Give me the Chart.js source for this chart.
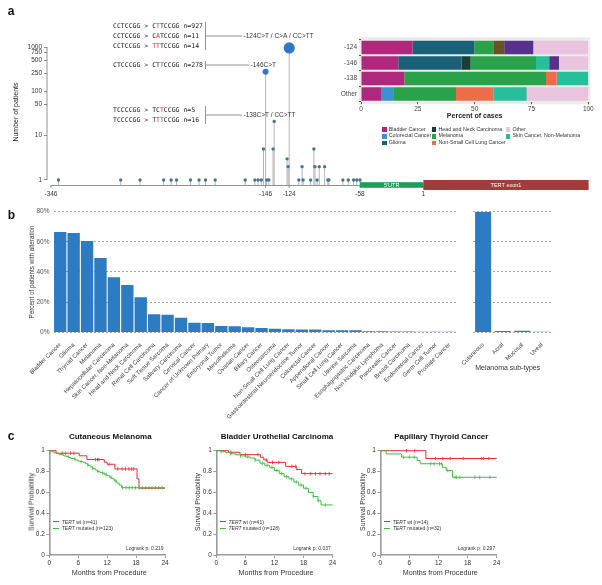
<!DOCTYPE html>
<html>
<head>
<meta charset="utf-8">
<title>TERT promoter mutations</title>
<script src="https://cdn.jsdelivr.net/npm/chart.js@4.4.1/dist/chart.umd.min.js"></script>
<style>
  body { margin: 0; width: 602px; height: 585px; position: relative; overflow: hidden; background: #fff;
         font-family: "Liberation Sans", Arial, sans-serif; color: #222; }
  canvas { position: absolute; }
  .t { position: absolute; white-space: nowrap; line-height: 1; }
  .sw { position: absolute; }
</style>
</head>
<body>
<canvas id="lolliChart" width="602" height="200" style="left:0;top:0"></canvas>
<canvas id="shareChart" width="272" height="90" style="left:330px;top:30px"></canvas>
<canvas id="altChart" width="470" height="220" style="left:0;top:200px"></canvas>
<canvas id="subChart" width="115" height="220" style="left:455px;top:200px"></canvas>
<canvas id="km0" width="180" height="155" style="left:0;top:430px"></canvas>
<canvas id="km1" width="180" height="155" style="left:166.7px;top:430px"></canvas>
<canvas id="km2" width="180" height="155" style="left:331px;top:430px"></canvas>
<script>
// ---- panel a: promoter positions ----
const mutPos = [-339, -281, -263, -241, -234, -229, -216, -208, -202, -193, -165, -156, -153, -150,
                -148, -146, -145, -143, -139, -138, -126, -125, -124, -115, -112, -111, -104, -101,
                -100, -98, -96, -91, -88, -87, -74, -69, -64, -61, -58];
const mutCount = [1, 1, 1, 1, 1, 1, 1, 1, 1, 1, 1, 1, 1, 1,
                  5, 278, 1, 1, 5, 21, 3, 2, 952, 1, 2, 1, 1, 5,
                  2, 1, 2, 2, 1, 1, 1, 1, 1, 1, 1];
const posTicks = [-346, -146, -124, -58, 1];
const countTicks = [1, 10, 50, 100, 250, 500, 750, 1000];
const regionNames = ["5'UTR", 'TERT exon1'];
const regionStart = [-58, 1];
const regionEnd = [1, 155];

const seqRef = ['CCTCCGG', 'CCTCCGG', 'CCTCCGG', 'CTCCCGG', 'TCCCCGG', 'TCCCCGG'];
const seqAlt = ['CTTCCGG', 'CATCCGG', 'TTTCCGG', 'CTTCCGG', 'TCTCCGG', 'TTTCCGG'];
const seqN = [927, 11, 14, 278, 5, 16];
const seqChanged = [[1], [1], [0, 1], [2], [2], [1, 2]];
const hotspotNames = ['-124C>T / C>A / CC>TT', '-146C>T', '-138C>T / CC>TT'];

// ---- panel a: cancer types per hotspot (percent of cases) ----
const hotspots = ['-124', '-146', '-138', 'Other'];
const cancerTypes = ['Bladder Cancer', 'Colorectal Cancer', 'Glioma', 'Head and Neck Carcinoma', 'Melanoma',
                     'Hepatocellular Carcinoma', 'Non-Small Cell Lung Cancer', 'Skin Cancer, Non-Melanoma',
                     'Thyroid Cancer', 'Other'];
const shareBladder = [22.7, 16.4, 19.1, 8.8];
const shareColorectal = [0, 0, 0, 5.7];
const shareGlioma = [27.2, 27.9, 0, 0];
const shareHeadNeck = [0, 3.9, 0, 0];
const shareMelanoma = [8.3, 28.8, 62.3, 27.3];
const shareHepato = [4.8, 0, 0, 0];
const shareNsclc = [0, 0, 4.7, 16.4];
const shareSkin = [0, 5.8, 13.9, 14.7];
const shareThyroid = [12.8, 4.3, 0, 0];
const shareOther = [24.2, 12.9, 0, 27.1];
const legendTypes = ['Bladder Cancer', 'Colorectal Cancer', 'Glioma', 'Head and Neck Carcinoma', 'Melanoma',
                     'Non-Small Cell Lung Cancer', 'Other', 'Skin Cancer, Non-Melanoma'];

// ---- panel b ----
const cancerCats = ['Bladder Cancer', 'Glioma', 'Thyroid Cancer', 'Melanoma', 'Hepatocellular Carcinoma',
  'Skin Cancer, Non-Melanoma', 'Head and Neck Carcinoma', 'Renal Cell Carcinoma', 'Soft Tissue Sarcoma',
  'Salivary Carcinoma', 'Cervical Cancer', 'Cancer of Unknown Primary', 'Embryonal Tumor', 'Mesothelioma',
  'Ovarian Cancer', 'Biliary Cancer', 'Osteosarcoma', 'Non-Small Cell Lung Cancer',
  'Gastrointestinal Neuroendocrine Tumor', 'Colorectal Cancer', 'Appendiceal Cancer', 'Small Cell Lung Cancer',
  'Uterine Sarcoma', 'Esophagogastric Carcinoma', 'Non-Hodgkin Lymphoma', 'Pancreatic Cancer',
  'Breast Carcinoma', 'Endometrial Cancer', 'Germ Cell Tumor', 'Prostate Cancer'];
const altPct = [66.5, 65.8, 60.5, 49.3, 36.5, 31.4, 23.2, 11.9, 11.7, 9.7, 6.4, 6.2, 4.2, 4.0, 3.3,
                2.9, 2.4, 2.0, 1.8, 1.8, 1.3, 1.3, 1.3, 0.7, 0.7, 0.6, 0.5, 0.4, 0.4, 0.3];
const subTypes = ['Cutaneous', 'Acral', 'Mucosal', 'Uveal'];
const subPct = [80, 0.9, 1.0, 0.3];

// ---- panel c: Kaplan-Meier (months, survival) ----
const kmTitles = ['Cutaneous Melanoma', 'Bladder Urothelial Carcinoma', 'Papillary Thyroid Cancer'];
const kmWtN = [41, 41, 14];
const kmMutN = [123, 128, 32];
const kmP = ['0.219', '0.037', '0.297'];
const monthTicks = [0, 6, 12, 18, 24];

const melWtT = [0, 1.4, 6.2, 7.8, 11.4, 12, 13.6, 18.2, 18.6, 24];
const melWtS = [1, 0.976, 0.951, 0.915, 0.89, 0.87, 0.825, 0.73, 0.64, 0.64];
const melWtCens = [2.7, 3.4, 4.4, 5.1, 9.6, 10, 10.3, 12.4, 14.2, 15.1, 15.8, 16.5, 17.1, 17.5];
const melMutT = [0, 0.5, 1, 1.5, 2, 2.5, 3, 3.5, 4, 4.5, 5, 5.5, 6, 6.5, 7, 7.5, 8, 8.5, 9, 9.5, 10,
                 10.5, 11, 11.5, 12, 12.5, 13, 13.5, 14, 14.5, 15, 24];
const melMutS = [1, 0.99, 0.98, 0.975, 0.965, 0.96, 0.95, 0.945, 0.935, 0.925, 0.92, 0.91, 0.9, 0.895,
                 0.89, 0.875, 0.86, 0.845, 0.83, 0.815, 0.8, 0.79, 0.785, 0.77, 0.76, 0.745, 0.73, 0.71,
                 0.69, 0.67, 0.645, 0.64];
const melMutCens = [3.9, 5.3, 6.6, 8, 9, 10.1, 11.1, 11.8, 12.8, 13.8, 15.2, 15.9, 16.6, 17.2, 17.9,
                    18.6, 19.3, 20, 20.7, 21.3, 22, 22.7, 23.4];

const blaWtT = [0, 2.5, 4.9, 9.1, 9.8, 10.5, 14.3, 16.5, 17.6, 24];
const blaWtS = [1, 0.985, 0.962, 0.937, 0.912, 0.888, 0.85, 0.82, 0.78, 0.78];
const blaWtCens = [3, 6, 8.6, 10.3, 11.6, 12.9, 15.6, 16.4, 18.3, 19.4, 20.5, 21.4, 22.5, 23.3];
const blaMutT = [0, 1, 2, 3, 4, 5, 6, 7, 8, 9, 10, 11, 12, 13, 14, 15, 16, 17, 18, 19, 20, 21, 21.6, 24];
const blaMutS = [1, 0.99, 0.98, 0.97, 0.96, 0.95, 0.94, 0.93, 0.91, 0.88, 0.86, 0.84, 0.81, 0.78, 0.75,
                 0.73, 0.70, 0.67, 0.64, 0.60, 0.56, 0.52, 0.48, 0.48];
const blaMutCens = [1, 3, 5, 6.5, 8, 9.5, 10.5, 11.5, 12.5, 13.5, 14.5, 15.5, 16.5, 17.5, 18.5, 20, 21, 22.5];

const thyWtT = [0, 9.4, 24];
const thyWtS = [1, 0.925, 0.925];
const thyWtCens = [5.4, 7.1, 11.4, 12.9, 14.4, 17.1, 20.9, 21.3, 22.4];
const thyMutT = [0, 1.2, 4.4, 7.6, 8.2, 12.8, 13.6, 14.9, 24];
const thyMutS = [1, 0.969, 0.938, 0.906, 0.875, 0.84, 0.81, 0.745, 0.745];
const thyMutCens = [4.8, 6, 7, 10.4, 11.1, 12.2, 12.6, 13.9, 15.4, 15.7, 16.4, 19.5, 20.5, 22.6];

// ---- styles ----
const typeColors = ['#b0287c', '#3b92d0', '#1a6178', '#173d35', '#2aa24a', '#665423', '#ee6c4a', '#27bf9b',
                    '#58328a', '#e8c4de'];
const barBlue = '#2c7bc3';
const wtRed = '#f0282d';
const mutGreen = '#3dbf3d';
const axisGrey = '#9a9a9a';
const SANS = '"Liberation Sans", Arial, sans-serif';

Chart.defaults.font.family = SANS;
Chart.defaults.color = '#333';
Chart.defaults.animation = false;
Chart.defaults.plugins.legend.display = false;
Chart.defaults.plugins.tooltip.enabled = false;

// fixed axis sizes so the plot areas land where the figure has them
function fixWidth(w) {
    return s => { s.width = w; s.paddingTop = 0; s.paddingBottom = 0; };
}
function fixHeight(h) {
    return s => { s.height = h; s.paddingLeft = 0; s.paddingRight = 0; };
}

function addText(html, x, y, size, align, extra) {
    const d = document.createElement('div');
    d.className = 't';
    d.innerHTML = html;
    const tx = align === 'left' ? '0' : align === 'right' ? '-100%' : '-50%';
    const rot = extra && extra.rot ? ' rotate(-90deg)' : '';
    d.style.cssText = `left:${x}px;top:${y}px;font-size:${size}px;transform:translate(${tx},-50%)${rot};`
        + (extra && extra.css ? extra.css : '');
    document.body.appendChild(d);
}
function addBox(x, y, w, h, color) {
    const d = document.createElement('div');
    d.className = 'sw';
    d.style.cssText = `left:${x}px;top:${y}px;width:${w}px;height:${h}px;background:${color};`;
    document.body.appendChild(d);
}

// ---------- lollipop ----------
const seqRowY = [26, 36, 46, 65, 110, 120];
const seqGroups = [[0, 2], [3, 3], [4, 5]];
const groupLineEnd = [242, 249, 242];

const lolliDeco = {
    id: 'lolliDeco',
    beforeDatasetsDraw(chart) {
        const { ctx, chartArea, scales: { x, y } } = chart;
        const base = chartArea.bottom;
        ctx.save();
        // stems
        ctx.strokeStyle = '#b3b3b3';
        ctx.lineWidth = 1;
        mutPos.forEach((p, i) => {
            const px = x.getPixelForValue(p);
            ctx.beginPath();
            ctx.moveTo(px, y.getPixelForValue(mutCount[i]));
            ctx.lineTo(px, base);
            ctx.stroke();
        });
        // axes
        ctx.strokeStyle = '#777';
        ctx.lineWidth = 0.8;
        ctx.beginPath();
        ctx.moveTo(chartArea.left, y.getPixelForValue(1000));
        ctx.lineTo(chartArea.left, y.getPixelForValue(1));
        ctx.moveTo(x.getPixelForValue(-346), base + 0.5);
        ctx.lineTo(x.getPixelForValue(-58), base + 0.5);
        posTicks.forEach(v => {
            const px = x.getPixelForValue(v);
            ctx.moveTo(px, base);
            ctx.lineTo(px, base + 3);
        });
        ctx.stroke();
        ctx.fillStyle = '#333';
        ctx.font = '6.5px ' + SANS;
        ctx.textAlign = 'center';
        ctx.textBaseline = 'middle';
        posTicks.forEach(v => ctx.fillText(String(v), x.getPixelForValue(v), base + 9));
        // gene regions
        const regionColor = ['#1b9e5a', '#a23c3c'];
        const regionHalf = [2.8, 5];
        regionStart.forEach((g, i) => {
            const x0 = x.getPixelForValue(g), x1 = x.getPixelForValue(regionEnd[i]);
            ctx.fillStyle = regionColor[i];
            ctx.fillRect(x0, base - regionHalf[i], x1 - x0, regionHalf[i] * 2);
            ctx.fillStyle = '#fff';
            ctx.font = '5.5px ' + SANS;
            ctx.fillText(regionNames[i], (x0 + x1) / 2, base + 0.3);
        });
        ctx.restore();
    },
    afterDraw(chart) {
        const { ctx } = chart;
        ctx.save();
        ctx.textBaseline = 'middle';
        ctx.textAlign = 'left';
        ctx.font = '6.5px "DejaVu Sans Mono", monospace';
        const cw = ctx.measureText('C').width;
        const x0 = 113;
        seqRef.forEach((ref, i) => {
            const y = seqRowY[i];
            const head = ref + ' > ';
            ctx.fillStyle = '#222';
            ctx.fillText(head, x0, y);
            const xa = x0 + cw * head.length;
            for (let k = 0; k < seqAlt[i].length; k++) {
                ctx.fillStyle = seqChanged[i].includes(k) ? '#d8262b' : '#222';
                ctx.fillText(seqAlt[i][k], xa + cw * k, y);
            }
            ctx.fillStyle = '#222';
            ctx.fillText(' n=' + seqN[i], xa + cw * seqAlt[i].length, y);
        });
        // brackets + hotspot names
        ctx.strokeStyle = '#666';
        ctx.lineWidth = 0.7;
        ctx.font = '6.5px ' + SANS;
        seqGroups.forEach((g, i) => {
            const y0 = seqRowY[g[0]] - 4, y1 = seqRowY[g[1]] + 4, ly = (y0 + y1) / 2;
            ctx.beginPath();
            ctx.moveTo(205.5, y0);
            ctx.lineTo(205.5, y1);
            ctx.moveTo(205.5, ly);
            ctx.lineTo(groupLineEnd[i], ly);
            ctx.stroke();
            ctx.fillStyle = '#333';
            ctx.fillText(hotspotNames[i], groupLineEnd[i] + 1.5, ly);
        });
        ctx.restore();
    }
};

new Chart(document.getElementById('lolliChart'), {
    type: 'scatter',
    data: {
        datasets: [{
            data: mutPos.map((p, i) => ({ x: p, y: mutCount[i] })),
            pointRadius: c => c.raw.y > 500 ? 5.6 : c.raw.y > 100 ? 3 : 1.7,
            pointBackgroundColor: c => c.raw.y > 100 ? '#2f78c0' : '#4a7299',
            pointBorderWidth: 0,
            clip: false
        }]
    },
    options: {
        responsive: false,
        layout: { padding: { top: 40, bottom: 15, right: 12, left: 0 } },
        scales: {
            x: { type: 'linear', display: false, min: -349.7, max: 156.3 },
            y: {
                type: 'logarithmic', min: 0.771, max: 1439,
                afterFit: fixWidth(47),
                afterBuildTicks: s => { s.ticks = countTicks.map(v => ({ value: v })); },
                ticks: { autoSkip: false, callback: v => String(v), font: { size: 6.5 }, padding: 2, color: '#333' },
                grid: { drawOnChartArea: false, tickLength: 3, color: '#555', lineWidth: 0.7 },
                border: { display: false }
            }
        }
    },
    plugins: [lolliDeco]
});

// ---------- stacked share bars ----------
const panelBg = {
    id: 'panelBg',
    beforeDraw(chart) {
        const { ctx, chartArea: a } = chart;
        ctx.save();
        ctx.fillStyle = '#ebebeb';
        ctx.fillRect(a.left - 2, a.top - 2.5, a.right - a.left + 4, a.bottom - a.top + 5);
        ctx.restore();
    }
};
const typeShares = [shareBladder, shareColorectal, shareGlioma, shareHeadNeck, shareMelanoma, shareHepato,
                    shareNsclc, shareSkin, shareThyroid, shareOther];

new Chart(document.getElementById('shareChart'), {
    type: 'bar',
    data: {
        labels: hotspots,
        datasets: cancerTypes.map((name, i) => ({
            label: name, data: typeShares[i], backgroundColor: typeColors[i],
            borderWidth: 0, barPercentage: 0.86, categoryPercentage: 1
        }))
    },
    options: {
        indexAxis: 'y',
        responsive: false,
        layout: { padding: { top: 9.75, right: 13.7, left: 0, bottom: 0 } },
        scales: {
            x: {
                stacked: true, min: 0, max: 100, afterFit: fixHeight(18.25),
                ticks: { stepSize: 25, font: { size: 6.5 }, padding: 1, color: '#444' },
                grid: { drawOnChartArea: false, tickLength: 2.5, color: '#555' },
                border: { display: false }
            },
            y: {
                stacked: true, afterFit: fixWidth(31),
                ticks: { font: { size: 6.5 }, padding: 2, color: '#444' },
                grid: { drawOnChartArea: false, tickLength: 2, color: '#555' },
                border: { display: false }
            }
        }
    },
    plugins: [panelBg]
});

// ---------- panel b ----------
const dashedY = (w, showTicks) => ({
    min: 0, max: 80, afterFit: fixWidth(w),
    ticks: { display: showTicks, stepSize: 20, callback: v => v + '%', font: { size: 6.5 }, color: '#555', padding: 4 },
    grid: { color: '#666', lineWidth: 0.6, drawTicks: false },
    border: { display: false, dash: [2, 2] }
});
const rotatedX = {
    afterFit: fixHeight(87.7),
    grid: { display: false },
    border: { display: false },
    ticks: { autoSkip: false, minRotation: 45, maxRotation: 45, font: { size: 6 }, color: '#444', padding: 1 }
};

new Chart(document.getElementById('altChart'), {
    type: 'bar',
    data: { labels: cancerCats, datasets: [{ data: altPct, backgroundColor: barBlue, barPercentage: 0.92, categoryPercentage: 1 }] },
    options: {
        responsive: false,
        layout: { padding: { top: 11.7, right: 13.8, left: 0, bottom: 0 } },
        scales: { x: rotatedX, y: dashedY(53.5, true) }
    }
});

new Chart(document.getElementById('subChart'), {
    type: 'bar',
    data: { labels: subTypes, datasets: [{ data: subPct, backgroundColor: barBlue, barPercentage: 0.82, categoryPercentage: 1 }] },
    options: {
        responsive: false,
        layout: { padding: { top: 11.7, right: 18.3, left: 0, bottom: 0 } },
        scales: { x: rotatedX, y: dashedY(18.3, false) }
    }
});

// ---------- panel c ----------
function survAt(T, S, t) {
    let s = S[0];
    T.forEach((v, i) => { if (v <= t) s = S[i]; });
    return s;
}
const kmAxisX = [49.3, 216, 380.3];
const kmRightX = [165, 332.3, 496.7];
const kmCanvasLeft = [0, 166.7, 331];
const kmCurves = [
    [melWtT, melWtS, melWtCens, melMutT, melMutS, melMutCens],
    [blaWtT, blaWtS, blaWtCens, blaMutT, blaMutS, blaMutCens],
    [thyWtT, thyWtS, thyWtCens, thyMutT, thyMutS, thyMutCens]
];

kmCurves.forEach((c, i) => {
    const [wtT, wtS, wtC, mutT, mutS, mutC] = c;
    const curve = (T, S) => T.map((t, k) => ({ x: t, y: S[k] }));
    const marks = (T, S, C) => C.map(t => ({ x: t, y: survAt(T, S, t) }));
    const censorStyle = col => ({
        showLine: false, pointStyle: 'line', pointRotation: 90, pointRadius: 1.8,
        pointBorderColor: col, pointBorderWidth: 0.8, clip: 4
    });
    new Chart(document.getElementById('km' + i), {
        type: 'line',
        data: {
            datasets: [
                { data: curve(mutT, mutS), stepped: true, borderColor: mutGreen, borderWidth: 1, pointRadius: 0, clip: 4 },
                Object.assign({ data: marks(mutT, mutS, mutC) }, censorStyle(mutGreen)),
                { data: curve(wtT, wtS), stepped: true, borderColor: wtRed, borderWidth: 1, pointRadius: 0, clip: 4 },
                Object.assign({ data: marks(wtT, wtS, wtC) }, censorStyle(wtRed))
            ]
        },
        options: {
            responsive: false,
            layout: { padding: { top: 20.7, right: 180 - (kmRightX[i] - kmCanvasLeft[i]), left: 0, bottom: 0 } },
            scales: {
                x: {
                    type: 'linear', min: 0, max: 24, afterFit: fixHeight(30),
                    afterBuildTicks: s => { s.ticks = monthTicks.map(v => ({ value: v })); },
                    ticks: { font: { size: 6.5 }, color: '#333', padding: 1 },
                    grid: { drawOnChartArea: false, tickLength: 3, color: axisGrey },
                    border: { color: axisGrey, width: 1.6 }
                },
                y: {
                    min: 0, max: 1, afterFit: fixWidth(kmAxisX[i] - kmCanvasLeft[i]),
                    ticks: { stepSize: 0.2, font: { size: 6.5 }, color: '#333', padding: 1.5,
                             callback: v => (v === 0 || v === 1) ? String(v) : v.toFixed(1) },
                    grid: { drawOnChartArea: false, tickLength: 3, color: axisGrey },
                    border: { color: axisGrey, width: 1.6 }
                }
            }
        }
    });

    const ax = kmAxisX[i];
    addText(kmTitles[i], ax + 61, 437, 8, 'center', { css: 'font-weight:bold;color:#111' });
    addText('Survival Probability', ax - 17.6, 502, 6.8, 'center', { rot: true, css: 'color:#333' });
    addText('Months from Procedure', ax + 60, 573.3, 7.2, 'center', { css: 'color:#333' });
    addBox(ax + 4, 521, 6, 1, wtRed);
    addBox(ax + 4, 527.5, 6, 1, mutGreen);
    addText(`<i>TERT</i> wt (n=${kmWtN[i]})`, ax + 12.5, 521.5, 5, 'left', { css: 'color:#333' });
    addText(`<i>TERT</i> mutated (n=${kmMutN[i]})`, ax + 12.5, 528, 5, 'left', { css: 'color:#333' });
    addText(`Logrank p: ${kmP[i]}`, kmRightX[i] - 1.5, 547.5, 5, 'right', { css: 'color:#333' });
});

// ---------- static labels ----------
addText('a', 11, 11, 12, 'center', { css: 'font-weight:bold;color:#111' });
addText('b', 11.5, 215, 12, 'center', { css: 'font-weight:bold;color:#111' });
addText('c', 11, 435.5, 12, 'center', { css: 'font-weight:bold;color:#111' });
addText('Number of patients', 15, 112, 7, 'center', { rot: true, css: 'color:#222' });
addText('Percent of cases', 474.7, 114.5, 7, 'center', { css: 'font-weight:bold;color:#222' });
addText('Percent of patients with alteration', 32, 271.5, 6.3, 'center', { rot: true, css: 'color:#333' });
addText('Melanoma sub-types', 507.7, 366.7, 7, 'center', { css: 'color:#333' });

const legColX = [382, 431.7, 505.7];
const legRowY = [129.5, 136.3, 143.1];
legendTypes.forEach((name, k) => {
    const cx = legColX[Math.floor(k / 3)], cy = legRowY[k % 3];
    addBox(cx, cy - 2.4, 4.8, 4.8, typeColors[cancerTypes.indexOf(name)]);
    addText(name, cx + 6.8, cy, 5.3, 'left', { css: 'color:#333' });
});
</script>
</body>
</html>
